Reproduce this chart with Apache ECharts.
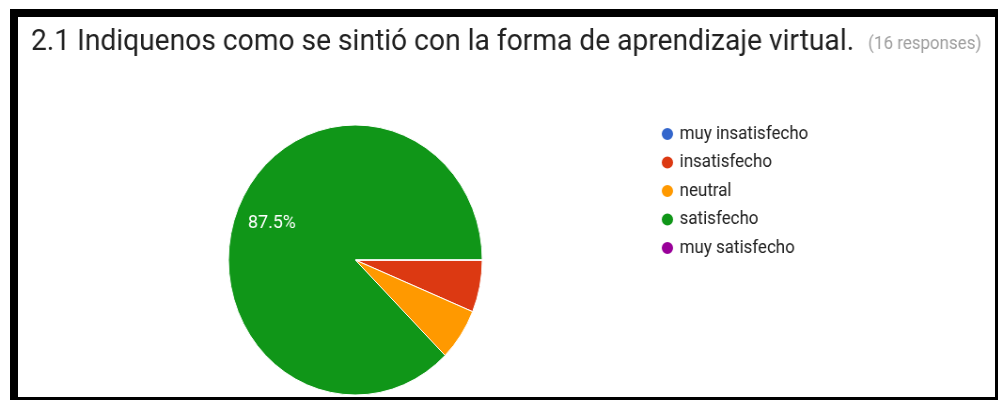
<!DOCTYPE html>
<html>
<head>
<meta charset="utf-8">
<script src="https://cdn.jsdelivr.net/npm/echarts@6/dist/echarts.min.js"></script>
<style>
  html, body { margin: 0; padding: 0; background: #fff; overflow: hidden; }
  #frame { position: absolute; left: 10px; top: 9px; width: 988px; height: 391px;
           border-left: 8px solid #000; border-top: 8px solid #000; border-right: 3px solid #000; border-bottom: 3px solid #000; box-sizing: border-box; }
  #wrap { position: absolute; left: 0; top: 0; width: 1066px; height: 403px; transform: scaleX(0.94); transform-origin: 0 0; }
  #chart { width: 1066px; height: 403px; }
</style>
</head>
<body>
<div id="wrap"><div id="chart"></div></div>
<div id="frame"></div>
<script>
const titleText = '2.1 Indiquenos como se sintió con la forma de aprendizaje virtual.';
const responsesText = '(16 responses)';
const categories = ['muy insatisfecho', 'insatisfecho', 'neutral', 'satisfecho', 'muy satisfecho'];
const counts = [0, 1, 1, 14, 0];
const colors = ['#3366cc', '#dc3912', '#ff9900', '#109618', '#990099'];

const pieData = categories.map((c, i) => ({ name: c, value: counts[i] }));
const chart = echarts.init(document.getElementById('chart'), null, { renderer: 'canvas' });
const center = [378, 260];
chart.setOption({
  animation: false,
  color: colors,
  title: {
    left: 28, top: 22,
    text: '{a|' + titleText + '}{b|' + responsesText + '}',
    textStyle: {
      fontWeight: 'normal',
      rich: {
        a: { fontFamily: 'Roboto', fontSize: 30, fontWeight: 'normal', color: '#212121' },
        b: { fontFamily: 'Roboto', fontSize: 18, fontWeight: 'normal', color: '#9e9e9e', padding: [5, 0, 0, 15] }
      }
    }
  },
  legend: {
    orient: 'vertical',
    left: 697, top: 120,
    icon: 'circle',
    itemWidth: 14, itemHeight: 14, itemGap: 10.5,
    textStyle: { fontFamily: 'Roboto', fontSize: 18, color: '#222', padding: [0, 0, 0, 1] },
    data: categories
  },
  series: [
    {
      type: 'pie',
      center: center,
      radius: [0, 135],
      startAngle: 0,
      clockwise: true,
      data: pieData,
      label: { show: false },
      labelLine: { show: false },
      itemStyle: { borderColor: '#fff', borderWidth: 1 },
      silent: true
    },
    {
      type: 'pie',
      center: center,
      radius: [51, 135],
      startAngle: 0,
      clockwise: true,
      data: pieData,
      itemStyle: { color: 'rgba(0,0,0,0)' },
      label: {
        show: true, position: 'inside',
        fontFamily: 'Roboto', fontSize: 19, color: '#fff',
        formatter: p => p.percent >= 10 ? p.percent.toFixed(1) + '%' : ''
      },
      labelLine: { show: false },
      silent: true
    }
  ]
});
</script>
</body>
</html>
